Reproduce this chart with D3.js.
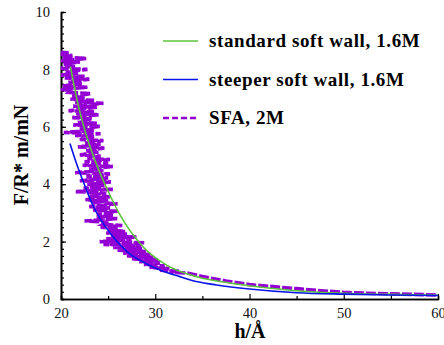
<!DOCTYPE html>
<html>
<head>
<meta charset="utf-8">
<script src="https://cdn.jsdelivr.net/npm/d3@7"></script>
</head>
<body style="margin:0">
<script>
// values
var xTicks = [20, 30, 40, 50, 60];
var xMinorTicks = [25, 35, 45, 55];
var yTicks = [0, 2, 4, 6, 8, 10];

var standardWall = [[21.0, 8.1], [21.9, 6.65], [22.7, 5.7], [24.0, 4.5], [24.85, 3.86], [26.4, 2.85],
  [28.7, 1.82], [31.2, 1.18], [34.6, 0.76], [37.9, 0.56], [41.1, 0.42], [45.3, 0.28],
  [50, 0.2], [55, 0.16], [60, 0.13]];

var steeperWall = [[20.95, 5.42], [21.7, 4.67], [22.5, 3.97], [23.4, 3.25], [25.2, 2.3], [27.0, 1.65],
  [28.8, 1.27], [30.5, 1.01], [32.6, 0.78], [34.5, 0.6], [36.5, 0.49], [40, 0.35],
  [45, 0.22], [50, 0.17], [55, 0.14], [60, 0.12]];

var sfa = [[20.0, 8.6], [20.8, 8.58], [20.0, 8.52], [21.2, 8.48], [20.2, 8.42], [22.7, 8.38], [20.0, 8.3],
  [22.0, 8.26], [20.3, 8.18], [21.5, 8.14], [20.0, 8.04], [22.8, 8.0], [20.5, 7.92], [21.8, 7.88],
  [20.0, 7.8], [22.5, 7.76], [20.4, 7.7], [23.0, 7.66], [20.8, 7.56], [22.2, 7.52], [20.2, 7.42],
  [22.8, 7.38], [20.0, 7.3], [21.0, 7.27], [20.8, 7.2], [23.2, 7.16], [21.2, 7.06], [22.5, 7.02],
  [21.0, 6.96], [23.5, 6.92], [21.5, 6.86], [24.5, 6.82], [21.3, 6.72], [23.8, 6.68], [20.8, 6.56],
  [23.5, 6.52], [21.6, 6.46], [24.0, 6.42], [21.2, 6.32], [23.3, 6.28], [21.8, 6.16], [23.8, 6.12],
  [21.3, 6.06], [24.2, 6.02], [22.0, 5.92], [23.5, 5.88], [20.3, 5.8], [24.2, 5.76], [21.5, 5.7],
  [23.5, 5.66], [22.0, 5.56], [24.5, 5.52], [22.5, 5.42], [24.2, 5.38], [21.8, 5.3], [24.6, 5.26],
  [22.6, 5.16], [24.0, 5.12], [22.0, 5.02], [24.2, 4.98], [22.8, 4.9], [25.2, 4.86], [22.5, 4.78],
  [25.0, 4.74], [22.3, 4.66], [25.5, 4.62], [23.0, 4.52], [24.5, 4.48], [21.5, 4.4], [25.2, 4.36],
  [22.7, 4.26], [25.0, 4.22], [22.0, 4.12], [25.3, 4.08], [22.8, 4.0], [24.6, 3.96], [22.4, 3.86],
  [25.5, 3.82], [21.5, 3.74], [24.8, 3.7], [23.0, 3.6], [25.2, 3.56], [22.6, 3.46], [25.0, 3.42],
  [23.3, 3.36], [26.0, 3.32], [23.0, 3.22], [25.2, 3.18], [23.4, 3.1], [26.0, 3.06], [23.8, 2.96],
  [25.5, 2.92], [23.8, 2.84], [26.0, 2.8], [22.5, 2.72], [25.0, 2.68], [24.5, 2.6], [26.5, 2.56],
  [24.2, 2.5], [26.0, 2.46], [25.0, 2.4], [26.8, 2.36], [24.8, 2.3], [27.0, 2.26], [25.3, 2.2],
  [28.0, 2.16], [24.8, 2.1], [27.5, 2.06], [24.1, 2.0], [28.9, 1.96], [24.5, 1.9], [28.5, 1.86],
  [25.5, 1.8], [28.6, 1.76], [26.0, 1.7], [29.0, 1.66], [26.6, 1.6], [29.5, 1.56], [27.0, 1.5],
  [29.8, 1.46], [27.5, 1.4], [30.3, 1.36], [28.3, 1.3], [30.5, 1.26], [28.8, 1.2], [31.0, 1.16],
  [29.4, 1.1], [31.5, 1.06], [30.5, 1.0], [32.5, 0.97], [31.5, 0.94], [33.5, 0.9],
  [35, 0.78], [37.5, 0.63], [40, 0.5], [42.5, 0.43], [45, 0.36], [47.5, 0.29], [50, 0.23],
  [52.5, 0.2], [55, 0.18], [57.5, 0.16], [60, 0.14]];

var seriesNames = ["standard soft wall, 1.6M", "steeper soft wall, 1.6M", "SFA, 2M"];
var seriesColors = ["#5cc43c", "#0a14e6", "#9400d3"];

var margin = {top: 12, left: 61};
var width = 377;
var height = 287;

var svg = d3.select("body").append("svg")
    .attr("width", 444)
    .attr("height", 345)
    .style("display", "block");

var plot = svg.append("g")
    .attr("transform", "translate(" + margin.left + "," + margin.top + ")");

var x = d3.scaleLinear().domain([20, 60]).range([0, width]);
var y = d3.scaleLinear().domain([0, 10]).range([height, 0]);

// minor ticks first, then the labelled ones
plot.append("g")
    .attr("transform", "translate(0," + height + ")")
    .call(d3.axisBottom(x).tickValues(xMinorTicks).tickSize(-3).tickFormat(""));
plot.append("g")
    .call(d3.axisLeft(y).tickValues(d3.range(0, 10.01, 0.25)).tickSize(-3).tickFormat(""));

plot.append("g")
    .attr("transform", "translate(0," + height + ")")
    .call(d3.axisBottom(x).tickValues(xTicks).tickSize(-5).tickSizeOuter(0).tickPadding(9));
plot.append("g")
    .call(d3.axisLeft(y).tickValues(yTicks).tickSize(-5).tickSizeOuter(0).tickPadding(11));

plot.selectAll("g").attr("font-family", null).attr("font-size", null);
plot.selectAll(".domain").attr("stroke", "#000").attr("stroke-width", 1.6);
plot.selectAll(".tick line").attr("stroke", "#000").attr("stroke-width", 1.2);
plot.selectAll(".tick text")
    .attr("fill", "#111")
    .attr("style", "font-family: 'Liberation Serif'; font-size: 14.5px");

var smooth = d3.line()
    .x(function(d) { return x(d[0]); })
    .y(function(d) { return y(d[1]); })
    .curve(d3.curveMonotoneX);
var raw = d3.line()
    .x(function(d) { return x(d[0]); })
    .y(function(d) { return y(d[1]); });

// SFA trace underneath, model curves on top
plot.append("path")
    .datum(sfa)
    .attr("d", raw)
    .attr("fill", "none")
    .attr("stroke", seriesColors[2])
    .attr("stroke-width", 3.6)
    .attr("stroke-dasharray", "10,2");

plot.append("path")
    .datum(standardWall)
    .attr("d", smooth)
    .attr("fill", "none")
    .attr("stroke", seriesColors[0])
    .attr("stroke-width", 1.6);

plot.append("path")
    .datum(steeperWall)
    .attr("d", smooth)
    .attr("fill", "none")
    .attr("stroke", seriesColors[1])
    .attr("stroke-width", 1.6);

// legend
var legend = svg.append("g")
    .attr("transform", "translate(163,41)");
var rows = legend.selectAll("g")
    .data(seriesNames)
    .enter().append("g")
    .attr("transform", function(d, i) { return "translate(0," + (i * 38.5) + ")"; });
rows.append("line")
    .attr("x1", 0).attr("x2", 35)
    .attr("stroke", function(d, i) { return seriesColors[i]; })
    .attr("stroke-width", function(d, i) { return i == 2 ? 2.5 : 1.6; })
    .attr("stroke-dasharray", function(d, i) { return i == 2 ? "6,3" : null; });
rows.append("text")
    .attr("x", 46)
    .attr("y", 6)
    .attr("style", "font-family: 'Liberation Serif'; font-size: 19px; font-weight: bold; letter-spacing: 0.6px")
    .text(function(d) { return d; });

// axis titles
svg.append("text")
    .attr("transform", "translate(28,155) rotate(-90)")
    .attr("text-anchor", "middle")
    .attr("style", "font-family: 'Liberation Serif'; font-size: 20px; font-weight: bold")
    .text("F/R* m/mN");

svg.append("text")
    .attr("x", 250)
    .attr("y", 338)
    .attr("text-anchor", "middle")
    .attr("style", "font-family: 'Liberation Serif'; font-size: 20px; font-weight: bold")
    .text("h/Å");
</script>
</body>
</html>
